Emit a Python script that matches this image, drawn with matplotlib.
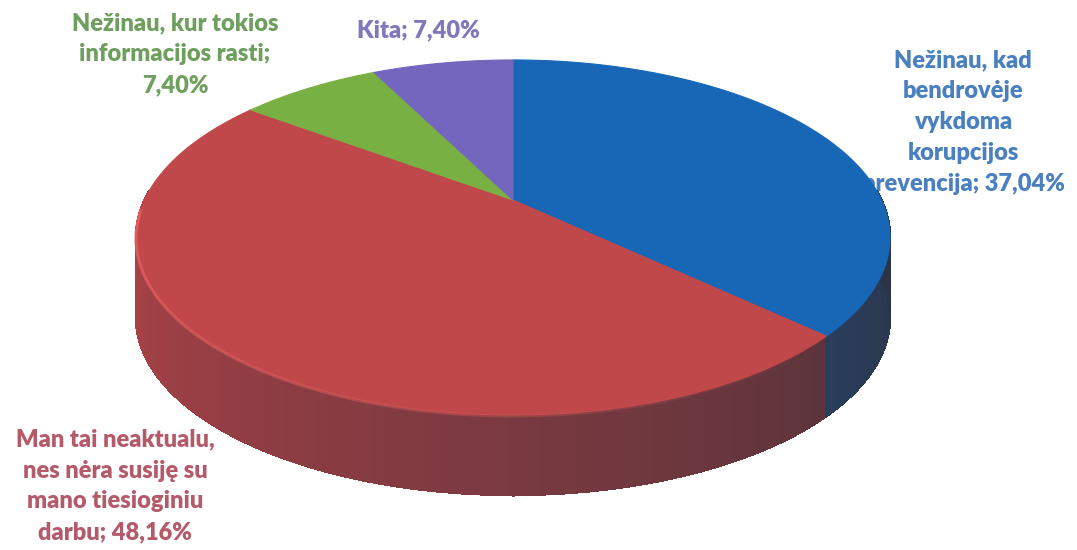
import numpy as np
import matplotlib
matplotlib.use("Agg")
import matplotlib.pyplot as plt
from matplotlib.collections import PolyCollection, LineCollection
from matplotlib.colors import to_rgb

# data
labels = [
    "Nežinau, kad\nbendrovėje\nvykdoma\nkorupcijos\nprevencija; 37,04%",
    "Man tai neaktualu,\nnes nėra susiję su\nmano tiesioginiu\ndarbu; 48,16%",
    "Nežinau, kur tokios\ninformacijos rasti;\n7,40%",
    "Kita; 7,40%",
]
values = [37.04, 48.16, 7.40, 7.40]
top_colors = ["#1767B6", "#C0474A", "#79B043", "#7466BE"]
text_colors = ["#4A80C0", "#B45A6A", "#6E9F5E", "#7F78BD"]
label_xy = [(963, 122), (115, 486), (175, 54), (418, 30)]

# pie geometry (pixels), perspective-ish projection of a disc
CX, CY = 513, 200
A, B, K = 368.5, 169.6, 0.211
DEPTH = 80


def proj(t, dy=0.0):
    x, y = np.cos(t), np.sin(t)
    w = 1 + K * y
    return CX + A * x / w, CY - B * y / w + dy


fig = plt.figure(figsize=(10.77, 5.5), dpi=100)
ax = fig.add_axes([0, 0, 1, 1])
ax.set_xlim(0, 1077)
ax.set_ylim(550, 0)
ax.axis("off")

vals = np.array(values)
cum = np.cumsum(vals) / vals.sum()
starts = np.concatenate([[0], cum[:-1]])


def slice_of(t):
    frac = ((np.pi / 2 - t) / (2 * np.pi)) % 1.0
    return np.minimum(np.searchsorted(cum, frac, side="right"), len(vals) - 1)


# side wall
ts = np.linspace(np.pi - 0.05, 2 * np.pi + 0.05, 900)
polys, cols = [], []
dark = np.array([0.19, 0.17, 0.21])
for t0, t1 in zip(ts[:-1], ts[1:]):
    x0, y0 = proj(t0)
    x1, y1 = proj(t1)
    polys.append([(x0, y0), (x1, y1), (x1, y1 + DEPTH), (x0, y0 + DEPTH)])
    tm = 0.5 * (t0 + t1)
    c = np.array(to_rgb(top_colors[slice_of(tm)]))
    f = np.clip(0.9 - 0.78 * (tm - np.pi) / np.pi, 0.12, 1)
    cols.append(tuple(c * f + dark * (1 - f)))
side = PolyCollection(polys, facecolors=cols, edgecolors=cols, linewidths=1.0,
                      antialiaseds=False, zorder=2)
ax.add_collection(side)
# smooth the lower outline
bx, by = proj(ts, DEPTH)
ax.add_collection(LineCollection(
    [[(bx[i], by[i]), (bx[i + 1], by[i + 1])] for i in range(len(ts) - 1)],
    colors=cols, linewidths=1.2, zorder=2))

# top faces
for s, e, col in zip(starts, cum, top_colors):
    tt = np.linspace(np.pi / 2 - 2 * np.pi * s, np.pi / 2 - 2 * np.pi * e, 200)
    px, py = proj(tt)
    xs = np.concatenate([[CX], px])
    ys = np.concatenate([[CY], py])
    ax.fill(xs, ys, color=col, lw=0.8, ec=col, zorder=3)

# highlight on the front rim
te = np.linspace(np.pi + 0.05, 1.75 * np.pi, 200)
ex, ey = proj(te)
segs = [[(ex[i], ey[i] + 1), (ex[i + 1], ey[i + 1] + 1)] for i in range(len(te) - 1)]
alph = np.linspace(0.9, 0.0, len(segs))
seg_cols = [(0.9, 0.38, 0.38, a) for a in alph]
ax.add_collection(LineCollection(segs, colors=seg_cols, linewidths=2.2, zorder=4))

# labels (drawn behind the pie)
for lab, col, (lx, ly) in zip(labels, text_colors, label_xy):
    ax.text(lx, ly, lab, color=col, fontsize=17, fontweight="heavy",
            family=["Lato", "DejaVu Sans"], ha="center", va="center",
            linespacing=1.5, zorder=1)

fig.savefig("out.png", dpi=100, facecolor="white")
